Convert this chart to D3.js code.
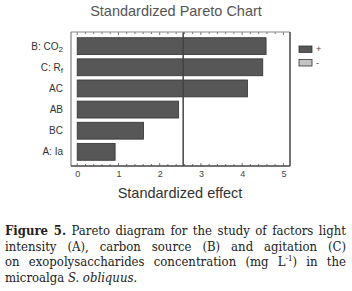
<!DOCTYPE html>
<html>
<head>
<meta charset="utf-8">
<script src="https://cdn.jsdelivr.net/npm/d3@7"></script>
<style>
  body { margin: 0; background: #fff; width: 352px; height: 291px; overflow: hidden; }
  #chart { position: absolute; left: 0; top: 0; }
  #caption { position: absolute; left: 5px; top: 223px; width: 341px; font-family: "DejaVu Serif Condensed", "Liberation Serif", serif; font-stretch: condensed; font-size: 13px; line-height: 15.7px; color: #222; }
  #caption div { text-align: justify; text-align-last: justify; white-space: nowrap; }
  #caption div.last { text-align-last: left; }
</style>
</head>
<body>
<svg id="chart" width="352" height="220"></svg>
<div id="caption"></div>
<script>
// factors, top to bottom (sorted by effect)
const factors = [
  { main: "B: CO", sub: "2" },
  { main: "C: R", sub: "f" },
  { main: "AC", sub: "" },
  { main: "AB", sub: "" },
  { main: "BC", sub: "" },
  { main: "A: Ia", sub: "" }
];
const effects = [4.58, 4.5, 4.13, 2.46, 1.61, 0.92];
const criticalValue = 2.57;
const xTicks = [0, 1, 2, 3, 4, 5];
const legendLabels = ["+", "-"];

const svg = d3.select("#chart");
const frame = { left: 71, right: 290, top: 32, bottom: 166 };

const x = d3.scaleLinear().domain([-0.15, 5.16]).range([frame.left, frame.right]);
const y = d3.scaleBand()
  .domain(factors.map((d, i) => i))
  .range([frame.top, frame.bottom])
  .paddingInner(0.2)
  .paddingOuter(0.27);

svg.append("text")
  .attr("x", 176).attr("y", 16)
  .attr("text-anchor", "middle")
  .attr("font-family", "Liberation Sans, Arial, sans-serif")
  .attr("font-size", 14.5)
  .attr("fill", "#555")
  .text("Standardized Pareto Chart");

// bars
svg.selectAll(".bar")
  .data(effects)
  .enter().append("rect")
  .attr("class", "bar")
  .attr("x", x(0))
  .attr("y", (d, i) => y(i))
  .attr("width", d => x(d) - x(0))
  .attr("height", y.bandwidth())
  .attr("fill", "#575757")
  .attr("stroke", "#333")
  .attr("stroke-width", 0.8);

// critical value line
svg.append("line")
  .attr("x1", x(criticalValue)).attr("x2", x(criticalValue))
  .attr("y1", frame.top).attr("y2", frame.bottom)
  .attr("stroke", "#444").attr("stroke-width", 1.5);

// minor ticks on top and bottom edges, pointing inward
const minor = d3.range(0, 5.01, 0.2);
svg.append("g").selectAll("line")
  .data(minor)
  .enter().append("line")
  .attr("x1", d => x(d)).attr("x2", d => x(d))
  .attr("y1", frame.top).attr("y2", d => frame.top + (Math.abs(d - Math.round(d)) < 1e-6 ? 3 : 2))
  .attr("stroke", "#555").attr("stroke-width", 0.8);
svg.append("g").selectAll("line")
  .data(minor)
  .enter().append("line")
  .attr("x1", d => x(d)).attr("x2", d => x(d))
  .attr("y1", frame.bottom).attr("y2", d => frame.bottom - (Math.abs(d - Math.round(d)) < 1e-6 ? 3 : 2))
  .attr("stroke", "#555").attr("stroke-width", 0.8);

// bottom axis labels
const xAxis = svg.append("g")
  .attr("transform", `translate(0,${frame.bottom})`)
  .call(d3.axisBottom(x).tickValues(xTicks).tickSize(0).tickPadding(5).tickFormat(d3.format("d")));
xAxis.select(".domain").remove();
xAxis.selectAll("text")
  .attr("font-family", "Liberation Sans, Arial, sans-serif")
  .attr("font-size", 9)
  .attr("fill", "#444");

// frame
svg.append("line").attr("x1", frame.left).attr("x2", frame.right).attr("y1", frame.top).attr("y2", frame.top)
  .attr("stroke", "#888").attr("stroke-width", 1);
svg.append("line").attr("x1", frame.left).attr("x2", frame.left).attr("y1", frame.top).attr("y2", frame.bottom)
  .attr("stroke", "#666").attr("stroke-width", 1);
svg.append("line").attr("x1", frame.right).attr("x2", frame.right).attr("y1", frame.top).attr("y2", frame.bottom)
  .attr("stroke", "#444").attr("stroke-width", 1.5);
svg.append("line").attr("x1", frame.left).attr("x2", frame.right).attr("y1", frame.bottom).attr("y2", frame.bottom)
  .attr("stroke", "#444").attr("stroke-width", 1.5);

// category labels
const labels = svg.selectAll(".cat")
  .data(factors)
  .enter().append("text")
  .attr("class", "cat")
  .attr("x", 63)
  .attr("y", (d, i) => y(i) + y.bandwidth() / 2 + 3.5)
  .attr("text-anchor", "end")
  .attr("font-family", "Liberation Sans, Arial, sans-serif")
  .attr("font-size", 10)
  .attr("fill", "#333");
labels.append("tspan").text(d => d.main);
labels.filter(d => d.sub).append("tspan")
  .attr("dy", 2.5)
  .attr("font-size", 8)
  .text(d => d.sub);

svg.append("text")
  .attr("x", 180).attr("y", 198)
  .attr("text-anchor", "middle")
  .attr("font-family", "Liberation Sans, Arial, sans-serif")
  .attr("font-size", 14.5)
  .attr("fill", "#333")
  .text("Standardized effect");

// legend
const legendFill = ["#575757", "#c4c4c4"];
const legend = svg.append("g").selectAll("g")
  .data(legendLabels)
  .enter().append("g")
  .attr("transform", (d, i) => `translate(299,${46 + i * 13.5})`);
legend.append("rect")
  .attr("width", 13).attr("height", 6.5)
  .attr("fill", (d, i) => legendFill[i])
  .attr("stroke", "#333").attr("stroke-width", 0.8);
legend.append("text")
  .attr("x", 17).attr("y", 6)
  .attr("font-family", "Liberation Sans, Arial, sans-serif")
  .attr("font-size", 9)
  .attr("fill", "#444")
  .text(d => d);

// caption
const caption = d3.select("#caption");
caption.append("div").html("<b>Figure 5.</b> Pareto diagram for the study of factors light");
caption.append("div").html("intensity (A), carbon source (B) and agitation (C)");
caption.append("div").html("on exopolysaccharides concentration (mg L<sup style=\"font-size:8px;line-height:0\">-1</sup>) in the");
caption.append("div").attr("class", "last").html("microalga <i>S. obliquus</i>.");
</script>
</body>
</html>
